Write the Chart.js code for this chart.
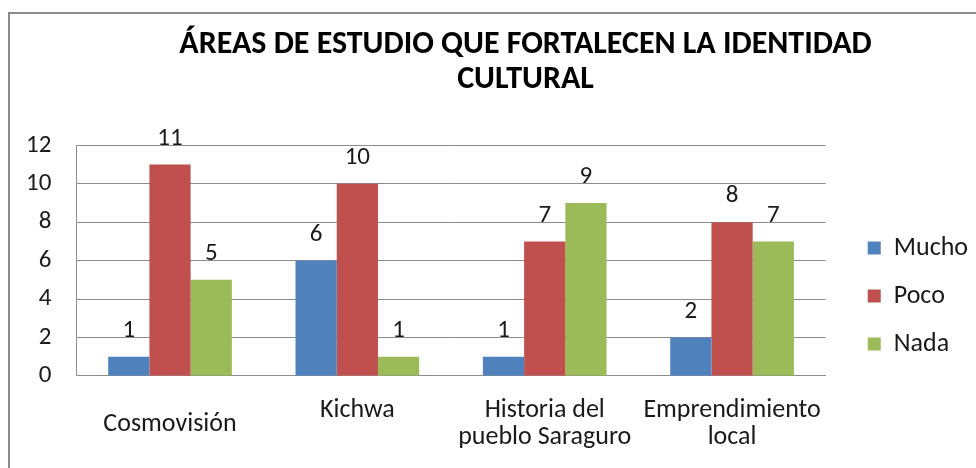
<!DOCTYPE html>
<html>
<head>
<meta charset="utf-8">
<script src="https://cdn.jsdelivr.net/npm/chart.js@4.4.1/dist/chart.umd.min.js"></script>
<style>
  html, body { margin: 0; padding: 0; background: #fff; overflow: hidden; }
  #frame { position: absolute; left: 8px; top: 12px; width: 1000px; height: 500px; border: 2px solid #8c8c8c; }
  #wrap { position: absolute; left: 0; top: 0; width: 966px; height: 454px; }
</style>
</head>
<body>
<div id="frame"><div id="wrap"><canvas id="barChart"></canvas></div></div>
<script>
// data
var categories = [['Cosmovisión'], ['Kichwa', ''], ['Historia del', 'pueblo Saraguro'], ['Emprendimiento', 'local']];
var mucho = [1, 6, 1, 2];
var poco = [11, 10, 7, 8];
var nada = [5, 1, 9, 7];
var yTicks = [0, 2, 4, 6, 8, 10, 12];

var FONT = "Calibri, Carlito, 'Open Sans', sans-serif";

// value labels on top of each bar
var barValues = {
    id: 'barValues',
    afterDatasetsDraw: function (chart) {
        var ctx = chart.ctx;
        ctx.save();
        ctx.font = '25px ' + FONT;
        ctx.fillStyle = '#1a1a1a';
        ctx.textAlign = 'center';
        ctx.textBaseline = 'middle';
        chart.data.datasets.forEach(function (ds, i) {
            chart.getDatasetMeta(i).data.forEach(function (bar, j) {
                ctx.fillText(ds.data[j], bar.x, bar.y - 26);
            });
        });
        ctx.restore();
    }
};

// move legend and title a little, like the original
var nudge = {
    id: 'nudge',
    afterLayout: function (chart) {
        chart.legend.top -= 121;
        chart.legend.bottom -= 121;
        chart.legend.left += 20;
        chart.legend.right += 20;
        chart.titleBlock.left += 46;
        chart.titleBlock.right += 46;
    }
};

var barCtx = document.getElementById('barChart').getContext('2d');
window.barChart = new Chart(barCtx, {
    type: 'bar',
    data: {
        labels: categories,
        datasets: [
            { label: 'Mucho', data: mucho, backgroundColor: '#4F81BD' },
            { label: 'Poco', data: poco, backgroundColor: '#C0504D' },
            { label: 'Nada', data: nada, backgroundColor: '#9BBB59' }
        ]
    },
    options: {
        responsive: true,
        maintainAspectRatio: false,
        animation: false,
        layout: { padding: { left: -9, right: 18, top: 0, bottom: -32 } },
        datasets: { bar: { barPercentage: 1, categoryPercentage: 0.66 } },
        plugins: {
            title: {
                display: true,
                text: ['ÁREAS DE ESTUDIO QUE FORTALECEN LA IDENTIDAD', 'CULTURAL'],
                color: '#000',
                font: { family: FONT, size: 32, weight: 'bold', lineHeight: 1.1 },
                padding: { top: 13, bottom: 48 }
            },
            legend: {
                position: 'right',
                align: 'end',
                labels: {
                    color: '#1a1a1a',
                    font: { family: FONT, size: 26 },
                    boxWidth: 13,
                    boxHeight: 13,
                    padding: 22
                }
            },
            tooltip: { enabled: false }
        },
        scales: {
            x: {
                grid: { display: false, drawTicks: false },
                border: { color: '#8c8c8c' },
                ticks: {
                    color: '#1a1a1a',
                    font: { family: FONT, size: 26, lineHeight: 1.04 },
                    maxRotation: 0,
                    autoSkip: false,
                    crossAlign: 'center',
                    padding: 35
                }
            },
            y: {
                beginAtZero: true,
                min: 0,
                max: 12,
                afterBuildTicks: function (axis) {
                    axis.ticks = yTicks.map(function (v) { return { value: v }; });
                },
                grid: { color: '#8c8c8c', drawTicks: false },
                border: { color: '#8c8c8c' },
                ticks: {
                    color: '#1a1a1a',
                    font: { family: FONT, size: 25 },
                    padding: 25
                }
            }
        }
    },
    plugins: [barValues, nudge]
});
</script>
</body>
</html>
